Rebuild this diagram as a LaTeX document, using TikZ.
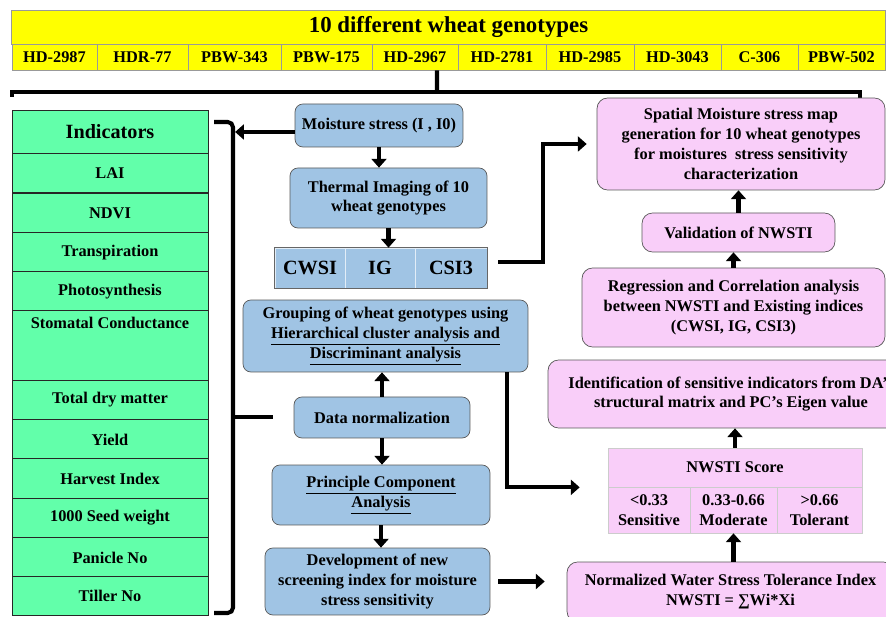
\documentclass[tikz,border=0pt]{standalone}
\usepackage{fontspec}
\setmainfont{Liberation Serif}
\usepackage{tikz}
\usetikzlibrary{fit,arrows.meta}
\definecolor{gold}{RGB}{255,255,0}
\definecolor{mint}{RGB}{98,255,170}
\definecolor{skyb}{RGB}{160,196,228}
\definecolor{lilac}{RGB}{249,206,249}
\newcommand{\boxfont}{\bfseries\fontsize{9.3}{11.3}\selectfont}
\newcommand{\cellfont}{\bfseries\fontsize{11.5}{13}\selectfont}
\newcommand{\headfont}{\bfseries\fontsize{13}{15}\selectfont}
\tikzstyle{gen} = [draw=black!40, fill=gold, minimum height=0.52cm, inner sep=0pt, font=\boxfont]
\tikzstyle{ind} = [draw=black!85, fill=mint, minimum width=3.92cm, minimum height=0.79cm, font=\boxfont]
\tikzstyle{proc} = [draw=black!65, fill=skyb, rounded corners=4.5pt, align=center, font=\boxfont]
\tikzstyle{idx} = [draw=white!70!skyb, fill=skyb, minimum height=0.8cm, inner sep=0pt, font=\cellfont]
\tikzstyle{res} = [draw=black!65, fill=lilac, rounded corners=6pt, align=center, font=\boxfont]
\tikzstyle{nw} = [draw=black!20, fill=lilac, align=center, inner sep=0pt, font=\boxfont]
\tikzstyle{wire} = [line width=2.3pt]
\tikzstyle{fat} = [wire, -{Triangle[length=5pt,width=8.5pt]}]

\begin{document}
\begin{tikzpicture}[x=0.02cm,y=-0.02cm]
        \useasboundingbox (0,0) rectangle (886,617);
        % genotypes
        \node[gen,minimum width=17.48cm,minimum height=0.68cm,font=\headfont](t) at (448.5,27){10 different wheat genotypes};
        \node[gen,minimum width=1.7cm](g1) at (54.5,57){HD-2987};
        \node[gen,minimum width=1.82cm](g2) at (142.5,57){HDR-77};
        \node[gen,minimum width=1.86cm](g3) at (234.5,57){PBW-343};
        \node[gen,minimum width=1.82cm](g4) at (326.5,57){PBW-175};
        \node[gen,minimum width=1.72cm](g5) at (415,57){HD-2967};
        \node[gen,minimum width=1.76cm](g6) at (502,57){HD-2781};
        \node[gen,minimum width=1.76cm](g7) at (590,57){HD-2985};
        \node[gen,minimum width=1.74cm](g8) at (677.5,57){HD-3043};
        \node[gen,minimum width=1.54cm](g9) at (759.5,57){C-306};
        \node[gen,minimum width=1.74cm](g10) at (841.5,57){PBW-502};
        \coordinate (bar) at (437,92);
        \coordinate (tl) at (12,97);
        \coordinate (tr) at (860,100);
        \draw[wire] (tl) |- (bar) -| (tr);
        \draw[wire] ([xshift=0.44cm]g5.south) -- (bar);
        % indicators
        \node[ind,minimum height=0.86cm,font=\cellfont](i0) at (110,131.5){Indicators};
        \node[ind](i1) at (110,173){LAI};
        \node[ind](i2) at (110,213){NDVI};
        \node[ind](i3) at (110,252.5){Transpiration};
        \node[ind](i4) at (110,291.5){Photosynthesis};
        \node[ind,minimum height=1.38cm,text height=7pt,text depth=26pt](i5) at (110,345.5){Stomatal Conductance};
        \node[ind](i6) at (110,400){Total dry matter};
        \node[ind](i7) at (110,439.5){Yield};
        \node[ind](i8) at (110,478.5){Harvest Index};
        \node[ind](i9) at (110,518){1000 Seed weight};
        \node[ind](i10) at (110,557.5){Panicle No};
        \node[ind](i11) at (110,596){Tiller No};
        \coordinate (bt) at (233,122);
        \coordinate (bb) at (233,613);
        \coordinate (bm) at (233,417);
        \draw[wire,rounded corners=3pt] (214,122) -- (bt) -- (bb) -- (214,613);
        \draw[wire] (bm) -- (273,417);
        % centre column
        \node[proc,minimum width=3.36cm,minimum height=0.86cm](stress) at (379,125.5){Moisture stress (I , I0)};
        \node[proc,minimum width=3.94cm,minimum height=1.2cm](thermal) at (388.5,198){Thermal Imaging of 10\\wheat genotypes};
        \node[idx,minimum width=1.4cm](c1) at (310,268){CWSI};
        \node[idx,minimum width=1.4cm](c2) at (380,268){IG};
        \node[idx,minimum width=1.44cm](c3) at (451,268){CSI3};
        \node[draw=black!60,inner sep=0pt,fit=(c1)(c3)]{};
        \node[proc,minimum width=5.7cm,minimum height=1.44cm](grp) at (385.5,336){Grouping of wheat genotypes using\\\underline{Hierarchical cluster analysis and}\\\underline{Discriminant analysis}};
        \node[proc,minimum width=3.52cm,minimum height=0.82cm](norm) at (382,417.5){Data normalization};
        \node[proc,minimum width=4.36cm,minimum height=1.2cm](pca) at (381,495){\underline{Principle Component}\\\underline{Analysis}};
        \node[proc,minimum width=4.5cm,minimum height=1.34cm](dev) at (377.5,581.5){Development of new\\screening index for moisture\\stress sensitivity};
        % right column
        \node[res,minimum width=5.76cm,minimum height=1.84cm](spatial) at (741,144){Spatial Moisture stress map\\generation for 10 wheat genotypes\\for moistures~ stress sensitivity\\characterization};
        \node[res,minimum width=3.86cm,minimum height=0.78cm](valid) at (738.5,232.5){Validation of NWSTI};
        \node[res,minimum width=6.06cm,minimum height=1.58cm](regr) at (733.5,307.5){Regression and Correlation analysis\\between NWSTI and Existing indices\\(CWSI, IG, CSI3)};
        \node[res,minimum width=7.32cm,minimum height=1.36cm](ident) at (731,394){Identification of sensitive indicators from DA’s\\structural matrix and PC’s Eigen value};
        \node[nw,minimum width=5.08cm,minimum height=0.78cm](score) at (735,467.5){NWSTI Score};
        \node[nw,minimum width=1.64cm,minimum height=0.92cm](s1) at (649,510){<0.33\\Sensitive};
        \node[nw,minimum width=1.74cm,minimum height=0.92cm](s2) at (733.5,510){0.33-0.66\\Moderate};
        \node[nw,minimum width=1.7cm,minimum height=0.92cm](s3) at (819.5,510){>0.66\\Tolerant};
        \node[res,minimum width=6.54cm,minimum height=1.2cm](wsti) at (730.5,592){Normalized Water Stress Tolerance Index\\NWSTI = ∑Wi*Xi};
        % arrows
        \draw[fat,shorten >=1.2pt] ([yshift=-0.13cm]stress.west) -- ([yshift=-0.13cm]stress.west -| bt);
        \draw[fat] (stress.south) -- (stress.south |- thermal.north);
        \draw[fat] (thermal.south) -- (thermal.south |- c2.north);
        \draw[fat] (norm.north) -- (norm.north |- grp.south);
        \draw[fat] (norm.south) -- (norm.south |- pca.north);
        \draw[fat] (pca.south) -- (pca.south |- dev.north);
        \draw[fat,shorten <=0.16cm,shorten >=0.44cm] (dev.east) -- (dev.east -| wsti.west);
        \draw[fat,shorten <=0.22cm,shorten >=0.2cm] ([yshift=0.12cm]c3.east) -- +(56,0) |- (spatial.west);
        \draw[fat,shorten >=0.56cm] ([xshift=-0.42cm]grp.south east) |- (score.south west);
        \draw[fat] (valid.north) -- (valid.north |- spatial.south);
        \draw[fat] (regr.north) -- (regr.north |- valid.south);
        \draw[fat] (score.north) -- (score.north |- ident.south);
        \draw[fat] (s2.south |- wsti.north) -- (s2.south);
      \end{tikzpicture}
\end{document}
